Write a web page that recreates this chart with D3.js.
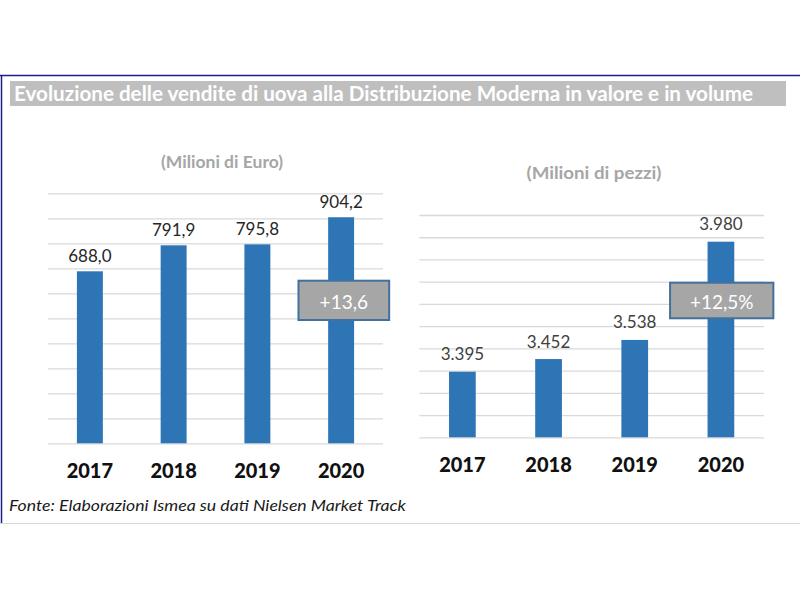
<!DOCTYPE html>
<html><head><meta charset="utf-8">
<script src="https://cdn.jsdelivr.net/npm/d3@7"></script>
<style>body{margin:0;background:#fff}svg{display:block}</style>
</head><body>
<svg id="c" width="800" height="600"></svg>
<script>
const years = ["2017","2018","2019","2020"];
const valueEuro = [688.0, 791.9, 795.8, 904.2];
const valueEuroLabels = ["688,0","791,9","795,8","904,2"];
const volumePieces = [3395, 3452, 3538, 3980];
const volumePiecesLabels = ["3.395","3.452","3.538","3.980"];
const euroTicks = d3.range(0, 1001, 100);
const piecesTicks = d3.range(3100, 4101, 100);
const titleText = "Evoluzione delle vendite di uova alla Distribuzione Moderna in valore e in volume";
const subtitles = ["(Milioni di Euro)", "(Milioni di pezzi)"];
const annotations = ["+13,6", "+12,5%"];
const sourceText = "Fonte: Elaborazioni Ismea su dati Nielsen Market Track";

const svg = d3.select("#c");
const F = "Lato, 'Open Sans', sans-serif";

// frame
svg.append("line").attr("x1",0).attr("x2",800).attr("y1",75.5).attr("y2",75.5).attr("stroke","#1c1c8a").attr("stroke-width",1.5);
svg.append("line").attr("x1",1.5).attr("x2",1.5).attr("y1",75).attr("y2",524).attr("stroke","#1c1c8a").attr("stroke-width",1.5);
svg.append("line").attr("x1",0).attr("x2",800).attr("y1",523.5).attr("y2",523.5).attr("stroke","#d8d8d8").attr("stroke-width",1);

// title
svg.append("rect").attr("x",10).attr("y",81).attr("width",776).attr("height",25).attr("fill","#bfbfbf");
svg.append("text").attr("x",14).attr("y",101).attr("fill","#fff").attr("font-family",F)
  .attr("font-weight","bold").attr("font-size",21).attr("textLength",739).attr("lengthAdjust","spacingAndGlyphs")
  .text(titleText);

// source
svg.append("text").attr("x",9).attr("y",511).attr("fill","#1a1a1a").attr("font-family",F)
  .attr("font-style","italic").attr("font-size",16).attr("textLength",397).attr("lengthAdjust","spacingAndGlyphs")
  .text(sourceText);

function panel(cfg){
  const x = d3.scaleBand().domain(years).range([cfg.x0, cfg.x1]).paddingInner(cfg.pad).paddingOuter(cfg.pad/2);
  const y = d3.scaleLinear().domain(cfg.domain).range([cfg.yb, cfg.yt]);
  const g = svg.append("g");
  const ax = d3.axisLeft(y).tickValues(cfg.ticks).tickSize(-(cfg.x1-cfg.x0)).tickFormat("");
  const ga = g.append("g").attr("transform",`translate(${cfg.x0},0)`).call(ax);
  ga.select(".domain").remove();
  ga.selectAll(".tick line").attr("stroke","#d9d9d9").attr("stroke-width",1.3);
  g.selectAll("rect.bar").data(cfg.values).join("rect").attr("class","bar")
    .attr("x",(d,i)=>x(years[i])).attr("width",x.bandwidth())
    .attr("y",d=>y(d)).attr("height",d=>cfg.yb-y(d)).attr("fill","#2e75b6");
  g.selectAll("text.val").data(cfg.values).join("text").attr("class","val")
    .attr("x",(d,i)=>x(years[i])+x.bandwidth()/2).attr("y",d=>y(d)-cfg.labOff)
    .attr("text-anchor","middle").attr("dominant-baseline","central")
    .attr("font-family",F).attr("font-size",17).attr("fill",cfg.labColor)
    .text((d,i)=>cfg.labels[i]);
  g.selectAll("text.yr").data(years).join("text").attr("class","yr")
    .attr("x",d=>x(d)+x.bandwidth()/2).attr("y",cfg.yearY)
    .attr("text-anchor","middle").attr("dominant-baseline","central")
    .attr("font-family",F).attr("font-weight","900").attr("font-size",20).attr("fill","#111")
    .text(d=>d);
  g.append("text").attr("x",cfg.subX).attr("y",cfg.subY).attr("text-anchor","middle").attr("dominant-baseline","central")
    .attr("font-family",F).attr("font-weight","bold").attr("font-size",17).attr("fill","#a6a6a6")
    .attr("textLength",cfg.subW).attr("lengthAdjust","spacingAndGlyphs").text(cfg.subtitle);
  const cx = x(years[3]) + x.bandwidth()/2 + cfg.boxDx;
  g.append("rect").attr("x",cx-cfg.boxW/2).attr("y",cfg.boxY).attr("width",cfg.boxW).attr("height",cfg.boxH)
    .attr("fill","#a6a6a6").attr("stroke","#41719c").attr("stroke-width",2);
  g.append("text").attr("x",cx).attr("y",cfg.boxY+cfg.boxH/2+1)
    .attr("text-anchor","middle").attr("dominant-baseline","central")
    .attr("font-family",F).attr("font-size",19).attr("fill","#fff").text(cfg.annot);
}

panel({x0:48, x1:383, pad:0.69, domain:[0,1000], yb:443.3, yt:193.3, ticks:euroTicks,
  values:valueEuro, labels:valueEuroLabels, labOff:16, labColor:"#262626", yearY:470,
  subtitle:subtitles[0], subX:222, subY:161.5, subW:122, annot:annotations[0],
  boxDx:2.7, boxW:90.7, boxY:280.7, boxH:39.3});

panel({x0:419.3, x1:764, pad:0.69, domain:[3100,4100], yb:437.3, yt:215, ticks:piecesTicks,
  values:volumePieces, labels:volumePiecesLabels, labOff:18, labColor:"#404040", yearY:463.5,
  subtitle:subtitles[1], subX:594, subY:172.5, subW:135, annot:annotations[1],
  boxDx:0.8, boxW:103.3, boxY:282.7, boxH:35.6});
</script>
</body></html>
